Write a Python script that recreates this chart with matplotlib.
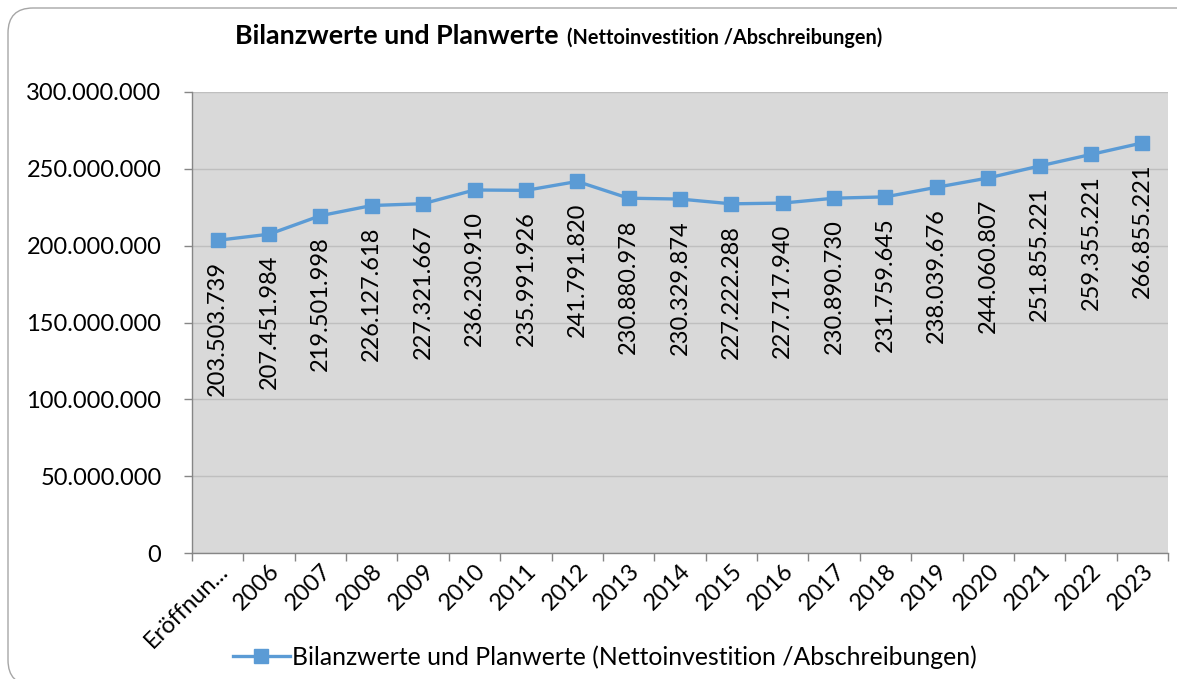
import matplotlib
matplotlib.use("Agg")
import matplotlib.pyplot as plt
from matplotlib.patches import FancyBboxPatch
from matplotlib.ticker import FuncFormatter, FixedLocator

categories = ["Eröffnun...", "2006", "2007", "2008", "2009", "2010", "2011", "2012",
              "2013", "2014", "2015", "2016", "2017", "2018", "2019", "2020",
              "2021", "2022", "2023"]
values = [203503739, 207451984, 219501998, 226127618, 227321667, 236230910,
          235991926, 241791820, 230880978, 230329874, 227222288, 227717940,
          230890730, 231759645, 238039676, 244060807, 251855221, 259355221,
          266855221]
series_name = "Bilanzwerte und Planwerte (Nettoinvestition /Abschreibungen)"

plt.rcParams["font.family"] = ["Lato", "DejaVu Sans"]
LINE = "#5B9BD5"
AXC = "#868686"
FS = 17

W, H = 1177, 679
fig = plt.figure(figsize=(W / 100, H / 100), dpi=100)

# rounded chart frame (inches, runs off the right and bottom edges)
fig.patches.append(FancyBboxPatch((0.08, -0.06), 11.94, 6.77,
                                  boxstyle="round,pad=0,rounding_size=0.25",
                                  transform=fig.dpi_scale_trans, fill=False,
                                  edgecolor="#A6A6A6", linewidth=1.0))

ax = fig.add_axes([192 / W, 1 - 553 / H, (1168 - 192) / W, (553 - 92) / H])
ax.set_facecolor("#D9D9D9")

x = list(range(len(categories)))
ax.plot(x, values, color=LINE, linewidth=2.4, marker="s", markersize=10,
        markerfacecolor=LINE, markeredgecolor=LINE, label=series_name, zorder=3)

for xi, v in zip(x, values):
    s = f"{v:,}".replace(",", ".")
    ax.annotate(s, (xi, v), xytext=(0, -15), textcoords="offset points",
                rotation=90, ha="center", va="top", fontsize=FS, color="black")

ax.set_xlim(-0.5, len(categories) - 0.5)
ax.set_ylim(0, 300000000)
ax.set_yticks(range(0, 300000001, 50000000))
ax.yaxis.set_major_formatter(FuncFormatter(lambda v, p: f"{int(v):,}".replace(",", ".")))
ax.grid(axis="y", color="#BFBFBF", linewidth=1.0)
ax.set_axisbelow(True)

ax.xaxis.set_major_locator(FixedLocator([i - 0.5 for i in range(len(categories) + 1)]))
ax.set_xticklabels([])
ax.set_xticks(x, minor=True)
ax.set_xticklabels(categories, minor=True, rotation=45, ha="right", va="top",
                   rotation_mode="anchor", fontsize=FS)
ax.tick_params(axis="x", which="minor", length=0, pad=5)
ax.tick_params(axis="x", which="major", length=6, color=AXC, width=1)
ax.tick_params(axis="y", length=6, color=AXC, width=1, labelsize=FS, pad=16)

for sp in ["top", "right"]:
    ax.spines[sp].set_visible(False)
for sp in ["left", "bottom"]:
    ax.spines[sp].set_color(AXC)
    ax.spines[sp].set_linewidth(1.0)

fig.text(235 / W, 1 - 44 / H, "Bilanzwerte und Planwerte", fontsize=19.4,
         fontweight="bold", ha="left", va="baseline")
fig.text(567 / W, 1 - 44 / H, "(Nettoinvestition /Abschreibungen)", fontsize=14.3,
         fontweight="bold", ha="left", va="baseline")

fig.legend(loc="center", bbox_to_anchor=(605 / W, 1 - 657 / H), frameon=False,
           fontsize=17.8, handlelength=2.3, handletextpad=0.1)

fig.savefig("out.png", dpi=100, facecolor="white")
